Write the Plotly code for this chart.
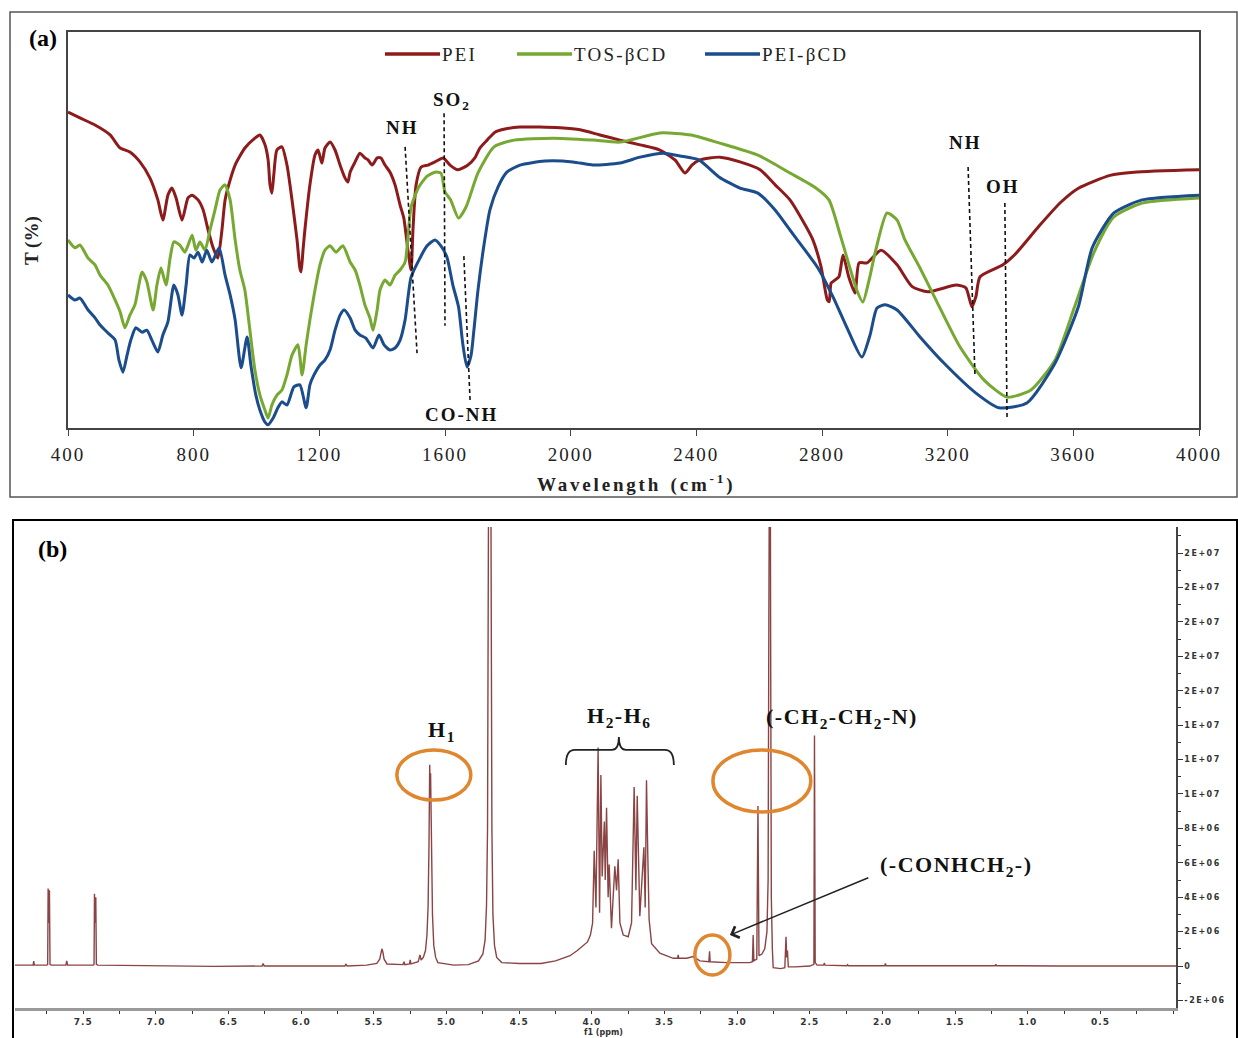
import numpy as np
import plotly.graph_objects as go

W, H = 1238, 1038

# ---------------- (a) FTIR data: (wavenumber cm-1, T %) ----------------
pei_points = [
    (400, 79.8), (438, 78.3), (486, 76.5), (534, 74.0), (566, 70.7), (597, 69.7), (629, 67.2),
    (661, 63.1), (686, 57.6), (702, 52.5), (718, 58.8), (731, 60.6), (744, 58.1), (763, 52.5),
    (782, 58.1), (795, 58.8), (814, 57.6), (830, 55.1), (846, 50.0), (862, 45.5), (877, 42.9),
    (890, 50.0), (900, 57.6), (916, 62.6), (932, 66.4), (963, 70.7), (995, 73.2), (1011, 74.0),
    (1027, 71.5), (1037, 67.7), (1043, 61.4), (1049, 59.3), (1055, 63.9), (1065, 70.2),
    (1081, 71.0), (1097, 66.4), (1113, 57.6), (1129, 47.5), (1138, 40.4), (1142, 39.4),
    (1148, 44.9), (1154, 50.0), (1170, 61.4), (1186, 68.9), (1196, 70.2), (1208, 66.9),
    (1218, 70.7), (1234, 72.2), (1250, 70.2), (1266, 66.4), (1282, 63.1), (1291, 62.1),
    (1298, 64.6), (1314, 67.2), (1329, 69.4), (1345, 68.2), (1355, 67.7), (1368, 66.4),
    (1384, 68.2), (1396, 68.2), (1409, 66.4), (1425, 64.6), (1441, 61.4), (1457, 56.3),
    (1469, 53.0), (1482, 44.9), (1492, 39.9), (1498, 50.0), (1508, 61.4), (1524, 65.9),
    (1546, 66.4), (1568, 67.2), (1594, 68.2), (1616, 66.4), (1641, 65.2), (1673, 66.4),
    (1695, 68.2), (1711, 70.7), (1734, 72.7), (1759, 74.7), (1791, 75.5), (1839, 76.0),
    (1902, 76.0), (1966, 75.8), (2030, 75.3), (2093, 74.0), (2157, 72.7), (2221, 71.5),
    (2284, 70.2), (2332, 67.7), (2364, 64.4), (2386, 66.4), (2412, 67.7), (2475, 68.4),
    (2539, 67.2), (2603, 65.2), (2651, 61.4), (2698, 57.6), (2746, 51.3), (2771, 47.5),
    (2797, 40.7), (2817, 32.3), (2823, 31.9), (2829, 36.6), (2842, 37.4), (2854, 38.2),
    (2867, 43.7), (2885, 38.2), (2905, 34.1), (2918, 41.7), (2943, 41.7), (2988, 44.9),
    (3039, 41.2), (3087, 35.7), (3137, 34.4), (3227, 36.1), (3258, 35.4), (3277, 30.6),
    (3290, 33.2), (3303, 38.2), (3376, 41.2), (3414, 43.8), (3491, 51.0), (3560, 57.0),
    (3615, 60.5), (3717, 63.8), (3793, 64.6), (4000, 65.2),
]

tos_bcd_points = [
    (400, 47.5), (422, 45.5), (438, 46.2), (464, 42.9), (486, 41.2), (502, 38.6), (527, 36.1),
    (550, 32.3), (566, 29.3), (581, 25.3), (597, 28.5), (613, 31.1), (636, 39.4), (651, 36.9),
    (671, 29.8), (683, 36.1), (696, 40.4), (712, 36.1), (725, 42.9), (737, 47.0), (756, 46.2),
    (772, 44.4), (795, 48.7), (807, 44.9), (820, 47.0), (836, 44.9), (852, 50.0), (868, 55.1),
    (884, 60.1), (900, 61.4), (916, 57.6), (932, 47.5), (947, 39.9), (963, 34.8), (979, 24.7),
    (995, 14.6), (1011, 8.3), (1027, 4.5), (1037, 2.5), (1049, 5.8), (1065, 8.3), (1081, 9.6),
    (1097, 13.4), (1113, 18.4), (1132, 21.0), (1145, 13.4), (1158, 21.0), (1170, 27.3),
    (1186, 34.8), (1202, 41.2), (1218, 44.9), (1234, 46.0), (1253, 44.4), (1275, 46.0),
    (1298, 41.9), (1314, 39.9), (1329, 36.1), (1345, 31.1), (1361, 27.8), (1371, 24.7),
    (1384, 29.8), (1393, 34.8), (1409, 37.4), (1425, 36.1), (1441, 38.6), (1457, 39.9),
    (1473, 41.9), (1492, 55.8), (1517, 60.9), (1543, 63.6), (1568, 64.6), (1587, 64.4),
    (1600, 59.6), (1618, 57.6), (1643, 53.0), (1667, 55.8), (1705, 64.4), (1756, 71.0),
    (1820, 72.7), (1944, 73.2), (2071, 72.7), (2157, 72.2), (2284, 74.5), (2383, 74.0),
    (2472, 72.0), (2596, 68.9), (2698, 64.4), (2775, 60.9), (2822, 57.6), (2860, 48.2),
    (2911, 34.8), (2930, 31.8), (2950, 37.4), (2969, 44.2), (3007, 54.3), (3039, 52.5),
    (3064, 47.5), (3112, 40.4), (3163, 32.3), (3239, 20.5), (3316, 12.1), (3389, 7.8),
    (3465, 9.6), (3542, 17.2), (3604, 30.6), (3666, 44.4), (3729, 53.3), (3819, 56.8),
    (4000, 58.1),
]

pei_bcd_points = [
    (400, 33.6), (422, 32.3), (438, 32.8), (464, 29.8), (486, 27.8), (502, 26.0), (527, 24.0),
    (550, 22.2), (562, 17.2), (575, 14.1), (588, 18.4), (600, 22.2), (616, 25.3), (636, 24.2),
    (651, 24.7), (667, 22.2), (686, 19.2), (702, 23.5), (718, 26.8), (737, 36.1), (750, 33.6),
    (763, 28.5), (776, 36.1), (788, 43.7), (801, 42.9), (814, 44.4), (827, 41.9), (842, 44.9),
    (858, 41.9), (881, 45.5), (900, 38.6), (916, 33.6), (932, 27.3), (951, 15.2), (970, 23.0),
    (982, 15.9), (998, 8.3), (1011, 4.5), (1027, 1.5), (1037, 0.8), (1053, 2.5), (1068, 5.1),
    (1081, 6.6), (1097, 5.8), (1119, 10.4), (1138, 10.9), (1158, 5.1), (1170, 10.9),
    (1183, 13.4), (1202, 15.9), (1218, 17.2), (1234, 19.7), (1250, 24.7), (1266, 28.5),
    (1279, 29.8), (1298, 27.8), (1314, 24.7), (1329, 23.5), (1348, 22.7), (1371, 20.2),
    (1390, 23.5), (1406, 21.0), (1425, 19.7), (1441, 20.2), (1457, 22.2), (1473, 27.3),
    (1492, 38.1), (1517, 42.4), (1543, 46.0), (1568, 47.5), (1587, 46.0), (1606, 43.2),
    (1625, 36.1), (1643, 30.6), (1657, 21.0), (1670, 15.4), (1683, 18.4), (1692, 24.7),
    (1705, 34.8), (1724, 46.2), (1743, 55.1), (1769, 60.9), (1797, 64.6), (1839, 66.4),
    (1918, 67.4), (2007, 67.2), (2071, 66.4), (2157, 66.9), (2221, 68.4), (2294, 69.4),
    (2348, 68.7), (2408, 67.7), (2472, 63.4), (2539, 60.6), (2596, 59.3), (2650, 55.1),
    (2698, 50.0), (2746, 44.9), (2787, 40.4), (2835, 33.1), (2883, 24.7), (2927, 17.9),
    (2953, 23.5), (2975, 30.3), (3001, 31.1), (3039, 29.8), (3112, 23.0), (3188, 16.4),
    (3290, 8.8), (3363, 5.1), (3452, 6.3), (3542, 16.4), (3616, 30.6), (3660, 45.5),
    (3729, 54.3), (3819, 57.6), (4000, 58.8),
]

ftir_xticks = [400, 800, 1200, 1600, 2000, 2400, 2800, 3200, 3600, 4000]

# band markers: (label, label_wn, label_T, line_top_wn, line_top_T, line_bottom_wn, line_bottom_T)
ftir_bands = [
    ("NH", 1466, 75.8, 1473, 71.0, 1511, 18.9),
    ("SO<sub>2</sub>", 1622, 82.6, 1597, 79.5, 1600, 25.8),
    ("CO-NH", 1651, 3.5, 1660, 43.4, 1680, 6.6),
    ("NH", 3258, 72.0, 3265, 65.9, 3287, 13.1),
    ("OH", 3376, 61.1, 3382, 56.8, 3389, 2.5),
]

# ---------------- (b) 1H NMR data: (ppm, intensity in units of 1e6) ----------------
nmr_points = [
    (7.97, 0.05), (7.86, 0.05), (7.845, 0.05), (7.841, 0.28), (7.837, 0.05),
    (7.75, 0.05), (7.745, 0.1), (7.742, 4.5), (7.738, 2.5), (7.733, 4.4), (7.729, 0.1), (7.72, 0.05),
    (7.62, 0.05), (7.614, 0.3), (7.608, 0.05),
    (7.43, 0.05), (7.426, 0.1), (7.423, 4.2), (7.419, 2.5), (7.414, 4.0), (7.410, 0.1), (7.40, 0.05),
    (7.0, 0.02), (6.6, -0.02), (6.27, 0.0), (6.262, 0.15), (6.255, 0.0), (5.9, -0.02),
    (5.70, 0.0), (5.692, 0.12), (5.685, 0.0),
    (5.55, 0.05), (5.48, 0.15), (5.46, 0.4), (5.452, 0.8), (5.445, 1.0), (5.438, 0.8), (5.43, 0.4), (5.41, 0.12),
    (5.30, 0.08), (5.293, 0.25), (5.287, 0.08), (5.255, 0.12), (5.25, 0.35), (5.245, 0.12),
    (5.195, 0.25), (5.183, 0.65), (5.175, 0.35), (5.16, 0.5), (5.145, 0.9), (5.135, 1.8),
    (5.127, 3.5), (5.121, 7.0), (5.116, 11.7), (5.113, 10.2), (5.110, 11.2), (5.104, 6.0),
    (5.097, 3.0), (5.088, 1.2), (5.075, 0.5), (5.06, 0.2),
    (4.95, 0.05), (4.85, 0.08), (4.78, 0.3), (4.75, 0.7), (4.735, 1.5), (4.725, 3.5), (4.718, 8.0),
    (4.712, 25.0), (4.706, 40.0), (4.700, 40.0), (4.694, 25.0), (4.688, 8.0), (4.681, 3.0),
    (4.67, 1.2), (4.655, 0.5), (4.62, 0.2),
    (4.5, 0.15), (4.35, 0.15), (4.25, 0.3), (4.15, 0.6), (4.10, 0.9), (4.06, 1.2), (4.03, 1.4), (4.01, 1.8),
    (3.995, 2.5), (3.984, 6.7), (3.972, 3.4), (3.957, 12.7), (3.947, 3.1), (3.938, 11.1), (3.929, 5.2),
    (3.914, 8.4), (3.908, 5.0), (3.899, 9.2), (3.888, 4.0), (3.881, 5.9), (3.865, 2.2), (3.842, 5.8),
    (3.830, 4.4), (3.819, 6.2), (3.807, 2.5), (3.784, 1.8), (3.750, 1.7), (3.727, 2.5),
    (3.709, 10.4), (3.697, 4.4), (3.688, 9.9), (3.670, 2.9), (3.656, 5.2), (3.642, 6.9),
    (3.633, 3.4), (3.624, 10.8), (3.615, 6.4), (3.606, 2.7), (3.589, 1.3), (3.532, 0.75),
    (3.44, 0.45), (3.41, 0.45), (3.406, 0.65), (3.402, 0.45), (3.348, 0.45), (3.303, 0.55),
    (3.257, 0.3), (3.195, 0.25), (3.19, 0.85), (3.186, 0.25), (3.073, 0.2), (2.913, 0.2),
    (2.895, 0.25), (2.890, 1.8), (2.885, 0.3), (2.865, 0.4), (2.857, 9.3), (2.850, 0.6),
    (2.83, 0.7), (2.81, 1.0), (2.795, 2.0), (2.787, 5.0), (2.782, 20.0), (2.778, 40.0),
    (2.774, 40.0), (2.770, 20.0), (2.765, 4.0), (2.758, 1.0), (2.752, -0.1), (2.70, -0.15),
    (2.672, -0.1), (2.664, 1.7), (2.659, 0.5), (2.654, 0.9), (2.648, -0.05), (2.60, -0.05),
    (2.50, 0.0), (2.472, 0.1), (2.468, 13.4), (2.463, 0.2), (2.45, 0.05), (2.405, 0.05),
    (2.40, 0.18), (2.395, 0.05), (2.245, 0.02), (2.24, 0.08), (2.235, 0.02), (1.985, 0.02),
    (1.98, 0.15), (1.975, 0.02), (1.6, 0.0), (1.225, 0.02), (1.22, 0.1), (1.215, 0.02),
    (0.8, 0.0), (-0.02, 0.0),
]

nmr_xticks = [7.5, 7.0, 6.5, 6.0, 5.5, 5.0, 4.5, 4.0, 3.5, 3.0, 2.5, 2.0, 1.5, 1.0, 0.5]
nmr_ytick_vals = [-2e6, 0, 2e6, 4e6, 6e6, 8e6, 1.0e7, 1.2e7, 1.4e7, 1.6e7, 1.8e7, 2.0e7, 2.2e7, 2.4e7]
nmr_ytick_text = ["-2E+06", "0", "2E+06", "4E+06", "6E+06", "8E+06", "1E+07", "1E+07", "1E+07",
                  "2E+07", "2E+07", "2E+07", "2E+07", "2E+07"]


def px(x):
    return x / W


def py(y):
    return 1 - y / H


def spaced(s, ls):
    return f"<span style='letter-spacing:{ls}px'>{s}</span>"


SERIF = "Liberation Serif, Times New Roman, serif"
C_PEI, C_TOS, C_PBCD = "#8E1B1B", "#76A832", "#1B4C8C"

fig = go.Figure()

for name, pts, col in [("PEI", pei_points, C_PEI), ("TOS-βCD", tos_bcd_points, C_TOS),
                       ("PEI-βCD", pei_bcd_points, C_PBCD)]:
    wn, t = zip(*pts)
    fig.add_trace(go.Scatter(x=list(wn), y=list(t), mode="lines", name=name,
                             line=dict(color=col, width=3, shape="spline", smoothing=0.6),
                             xaxis="x", yaxis="y", showlegend=False))

ppm, inten = zip(*nmr_points)
fig.add_trace(go.Scatter(x=list(ppm), y=list(np.array(inten) * 1e6), mode="lines", name="1H NMR",
                         line=dict(color="#8A4444", width=1.4), xaxis="x2", yaxis="y2",
                         showlegend=False))

shapes = []
annotations = []

# outer frames
shapes.append(dict(type="rect", xref="paper", yref="paper", x0=px(10), x1=px(1237), y0=py(497), y1=py(12),
                   line=dict(color="#555", width=1.5), fillcolor="rgba(0,0,0,0)", layer="below"))
shapes.append(dict(type="rect", xref="paper", yref="paper", x0=px(13), x1=px(1237), y0=-0.01, y1=py(520),
                   line=dict(color="#000", width=2), fillcolor="rgba(0,0,0,0)", layer="below"))

# manual legend for (a)
for name, col, lx0 in [("PEI", C_PEI, 385), ("TOS-βCD", C_TOS, 517), ("PEI-βCD", C_PBCD, 705)]:
    shapes.append(dict(type="line", xref="paper", yref="paper", x0=px(lx0), x1=px(lx0 + 55),
                       y0=py(54), y1=py(54), line=dict(color=col, width=3.5)))
    annotations.append(dict(xref="paper", yref="paper", x=px(lx0 + 55), y=py(54), text=spaced(name, 2.2),
                            showarrow=False, xanchor="left", yanchor="middle",
                            font=dict(family=SERIF, size=19, color="#222")))

# band markers
for lab, lx, ly, x0, y0, x1, y1 in ftir_bands:
    shapes.append(dict(type="line", xref="x", yref="y", x0=x0, y0=y0, x1=x1, y1=y1,
                       line=dict(color="#111", width=1.6, dash="4px,3px")))
    annotations.append(dict(xref="x", yref="y", x=lx, y=ly, text="<b>" + spaced(lab, 2) + "</b>",
                            showarrow=False, xanchor="center", yanchor="middle",
                            font=dict(family=SERIF, size=19, color="#111")))

annotations.append(dict(xref="paper", yref="paper", x=px(43), y=py(38), text="<b>(a)</b>", showarrow=False,
                        xanchor="center", yanchor="middle",
                        font=dict(family=SERIF, size=24, color="#000")))
annotations.append(dict(xref="paper", yref="paper", x=px(52), y=py(549), text="<b>(b)</b>", showarrow=False,
                        xanchor="center", yanchor="middle",
                        font=dict(family=SERIF, size=24, color="#000")))
annotations.append(dict(xref="paper", yref="paper", x=px(32), y=py(241), text="<b>T (%)</b>",
                        textangle=-90, showarrow=False, xanchor="center", yanchor="middle",
                        font=dict(family=SERIF, size=19, color="#222")))
annotations.append(dict(xref="paper", yref="paper", x=px(636), y=py(483),
                        text="<b>" + spaced("Wavelength", 2.8) + "  " + spaced("(cm<sup>-1</sup>)", 2.8) + "</b>",
                        showarrow=False, xanchor="center", yanchor="middle",
                        font=dict(family=SERIF, size=19, color="#222")))

# NMR decorations
ORANGE = "#E0862E"
for x0, x1, y0, y1 in [(5.342, 4.833, 9.65e6, 12.56e6), (3.167, 2.493, 8.95e6, 12.56e6),
                       (3.291, 3.050, -0.52e6, 1.80e6)]:
    shapes.append(dict(type="circle", xref="x2", yref="y2", x0=x0, x1=x1, y0=y0, y1=y1,
                       line=dict(color=ORANGE, width=3.5)))

brace = ("M 4.179,11690000 Q 4.179,12560000 4.117,12560000 L 3.862,12560000 "
         "Q 3.814,12560000 3.814,13310000 Q 3.814,12560000 3.766,12560000 "
         "L 3.498,12560000 Q 3.436,12560000 3.436,11690000")
shapes.append(dict(type="path", xref="x2", yref="y2", path=brace, line=dict(color="#222", width=1.8)))

for txt, x, y in [("H<sub>1</sub>", 5.032, 13.66e6), ("H<sub>2</sub>-H<sub>6</sub>", 3.814, 14.5e6),
                  ("(-CH<sub>2</sub>-CH<sub>2</sub>-N)", 2.279, 14.42e6),
                  ("(-CONHCH<sub>2</sub>-)", 1.488, 5.81e6)]:
    annotations.append(dict(xref="x2", yref="y2", x=x, y=y, text="<b>" + spaced(txt, 1.5) + "</b>",
                            showarrow=False, xanchor="center", yanchor="middle",
                            font=dict(family=SERIF, size=22, color="#111")))

annotations.append(dict(xref="x2", yref="y2", x=3.05, y=1.8e6, axref="x2", ayref="y2", ax=2.087, ay=5.17e6,
                        text="", showarrow=True, arrowhead=4, arrowsize=1.6, arrowwidth=1.5,
                        arrowcolor="#222"))
annotations.append(dict(xref="paper", yref="paper", x=px(603), y=py(1032), text="<b>f1 (ppm)</b>",
                        showarrow=False, xanchor="center", yanchor="middle",
                        font=dict(family="DejaVu Sans", size=8, color="#333")))

fig.update_layout(
    width=W, height=H, margin=dict(l=0, r=0, t=0, b=0, autoexpand=False),
    paper_bgcolor="white", plot_bgcolor="white", showlegend=False,
    xaxis=dict(domain=[px(68), px(1199)], range=[400, 4000], tickvals=ftir_xticks,
               ticktext=[spaced(str(v), 2) for v in ftir_xticks],
               ticks="outside", ticklen=6, tickcolor="#444", showline=True, mirror=True,
               linecolor="#444", linewidth=1.5, showgrid=False, zeroline=False, anchor="y",
               ticklabelstandoff=2, automargin=False,
               tickfont=dict(family=SERIF, size=19, color="#222")),
    yaxis=dict(domain=[py(428), py(32)], range=[0, 100], showticklabels=False, ticks="",
               showline=True, mirror=True, linecolor="#444", linewidth=1.5, showgrid=False,
               zeroline=False, anchor="x", automargin=False),
    xaxis2=dict(domain=[px(15), px(1176)], range=[7.97, -0.02], tickvals=nmr_xticks,
                ticktext=[spaced(f"{v:.1f}", 1) for v in nmr_xticks], ticks="outside", ticklen=3,
                tickcolor="#333", showline=True, linecolor="#9a9a9a", linewidth=3,
                showgrid=False, zeroline=False, anchor="y2", automargin=False,
                minor=dict(dtick=0.25, tick0=0, ticks="outside", ticklen=3, tickcolor="#333"),
                tickfont=dict(family="DejaVu Sans", size=9, color="#333", weight="bold")),
    yaxis2=dict(domain=[py(1008), py(527)], range=[-2.44e6, 25.52e6], side="right", anchor="x2",
                tickvals=nmr_ytick_vals, ticktext=[spaced(s, 1.5) for s in nmr_ytick_text],
                ticks="outside", ticklen=5,
                tickcolor="#333", showline=True, linecolor="#444", linewidth=1.5,
                showgrid=False, zeroline=False, automargin=False,
                minor=dict(dtick=1e6, tick0=0, ticks="outside", ticklen=3, tickcolor="#333"),
                tickfont=dict(family="DejaVu Sans", size=8, color="#333", weight="bold")),
    shapes=shapes, annotations=annotations,
)

fig.write_html("out.html")
